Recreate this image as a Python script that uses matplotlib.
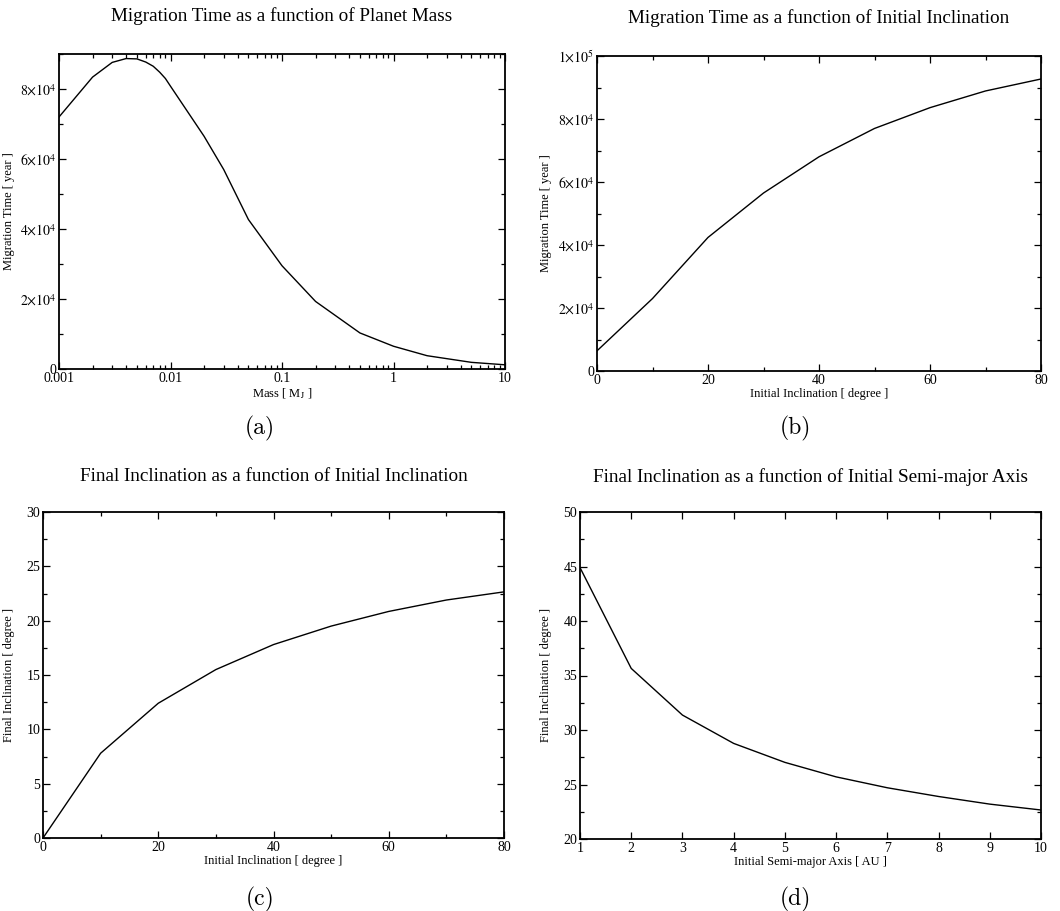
import numpy as np
import matplotlib
matplotlib.use("Agg")
import matplotlib.pyplot as plt
from matplotlib.ticker import MultipleLocator, FixedLocator, FuncFormatter, NullFormatter

plt.rcParams['font.family'] = ['Liberation Serif', 'DejaVu Serif']
plt.rcParams['mathtext.fontset'] = 'stix'

# (a) migration time vs planet mass
mass = [0.001, 0.002, 0.003, 0.004, 0.005, 0.006, 0.007, 0.008, 0.009, 0.01,
        0.02, 0.03, 0.05, 0.1, 0.2, 0.5, 1, 2, 5, 10]
t_mass = [72000, 83400, 87600, 88700, 88600, 87700, 86500, 84800, 83000, 80800,
          66500, 57000, 42700, 29500, 19300, 10300, 6500, 3800, 1900, 1200]

# (b) migration time vs initial inclination
inc_b = [0, 10, 20, 30, 40, 50, 60, 70, 80]
t_inc = [6400, 23000, 42400, 56500, 68000, 77000, 83600, 88900, 92700]

# (c) final inclination vs initial inclination
inc_c = [0, 10, 20, 30, 40, 50, 60, 70, 80]
fin_c = [0, 7.8, 12.4, 15.5, 17.8, 19.5, 20.85, 21.9, 22.65]

# (d) final inclination vs initial semi-major axis
sma = [1, 2, 3, 4, 5, 6, 7, 8, 9, 10]
fin_d = [44.9, 35.65, 31.37, 28.77, 27.03, 25.7, 24.7, 23.9, 23.2, 22.66]

W, H = 1060, 911
fig = plt.figure(figsize=(W / 100, H / 100), dpi=100)


def make_ax(x0, y0, x1, y1, ylab_x):
    ax = fig.add_axes([x0 / W, 1 - y1 / H, (x1 - x0) / W, (y1 - y0) / H])
    ax.tick_params(which='both', direction='in', top=True, right=True,
                   labelsize=10, pad=2, width=0.9)
    ax.tick_params(which='major', length=5)
    ax.tick_params(which='minor', length=3)
    for s in ax.spines.values():
        s.set_linewidth(1.3)
    ax._ylab_x = (ylab_x - x0) / (x1 - x0)
    return ax


def labels(ax, xl, yl):
    ax.set_xlabel(xl, fontsize=9, labelpad=1)
    ax.set_ylabel(yl, fontsize=9)
    ax.yaxis.set_label_coords(ax._ylab_x, 0.5)


def sci(v, pos):
    if abs(v) < 1e-9:
        return '0'
    if v < 0:
        return ''
    e = int(np.floor(np.log10(v)))
    m = v / 10 ** e
    return r'$%d{\times}10^{%d}$' % (round(m), e)


def caption(xc, y, s):
    fig.text(xc / W, 1 - y / H, s, ha='center', va='center', fontsize=17, family='cmr10')


def title(ax, y, s):
    fig.text(0.5, 1 - y / H, s, ha='center', va='center', fontsize=13.8,
             transform=matplotlib.transforms.blended_transform_factory(ax.transAxes, fig.transFigure))


# panel a
ax = make_ax(59, 54, 505, 369, 15)
ax.plot(mass, t_mass, color='black', lw=1)
ax.set_xscale('log')
ax.set_xlim(0.001, 10)
ax.set_ylim(0, 90000)
ax.xaxis.set_major_locator(FixedLocator([0.001, 0.01, 0.1, 1, 10]))
ax.xaxis.set_major_formatter(FuncFormatter(lambda v, p: '%g' % v))
ax.xaxis.set_minor_locator(matplotlib.ticker.LogLocator(base=10, subs=np.arange(2, 10)))
ax.xaxis.set_minor_formatter(NullFormatter())
ax.yaxis.set_major_locator(MultipleLocator(20000))
ax.yaxis.set_minor_locator(MultipleLocator(10000))
ax.yaxis.set_major_formatter(FuncFormatter(sci))
labels(ax, r'Mass [ M$_{\rm J}$ ]', 'Migration Time [ year ]')
title(ax, 16, 'Migration Time as a function of Planet Mass')
caption(260, 428, '(a)')

# panel b
ax = make_ax(597, 56, 1041, 371, 552)
ax.plot(inc_b, t_inc, color='black', lw=1)
ax.set_xlim(0, 80)
ax.set_ylim(0, 100000)
ax.xaxis.set_major_locator(MultipleLocator(20))
ax.xaxis.set_minor_locator(MultipleLocator(10))
ax.yaxis.set_major_locator(MultipleLocator(20000))
ax.yaxis.set_minor_locator(MultipleLocator(10000))
ax.yaxis.set_major_formatter(FuncFormatter(sci))
labels(ax, 'Initial Inclination [ degree ]', 'Migration Time [ year ]')
title(ax, 18, 'Migration Time as a function of Initial Inclination')
caption(795, 428, '(b)')

# panel c
ax = make_ax(43, 512, 504, 838, 15)
ax.plot(inc_c, fin_c, color='black', lw=1)
ax.set_xlim(0, 80)
ax.set_ylim(0, 30)
ax.xaxis.set_major_locator(MultipleLocator(20))
ax.xaxis.set_minor_locator(MultipleLocator(10))
ax.yaxis.set_major_locator(MultipleLocator(5))
ax.yaxis.set_minor_locator(MultipleLocator(2.5))
labels(ax, 'Initial Inclination [ degree ]', 'Final Inclination [ degree ]')
title(ax, 477, 'Final Inclination as a function of Initial Inclination')
caption(260, 899, '(c)')

# panel d
ax = make_ax(580, 512, 1041, 839, 552)
ax.plot(sma, fin_d, color='black', lw=1)
ax.set_xlim(1, 10)
ax.set_ylim(20, 50)
ax.xaxis.set_major_locator(MultipleLocator(1))
ax.yaxis.set_major_locator(MultipleLocator(5))
ax.yaxis.set_minor_locator(MultipleLocator(2.5))
labels(ax, 'Initial Semi-major Axis [ AU ]', 'Final Inclination [ degree ]')
title(ax, 477, 'Final Inclination as a function of Initial Semi-major Axis')
caption(795, 899, '(d)')

fig.savefig('out.png', dpi=100)
